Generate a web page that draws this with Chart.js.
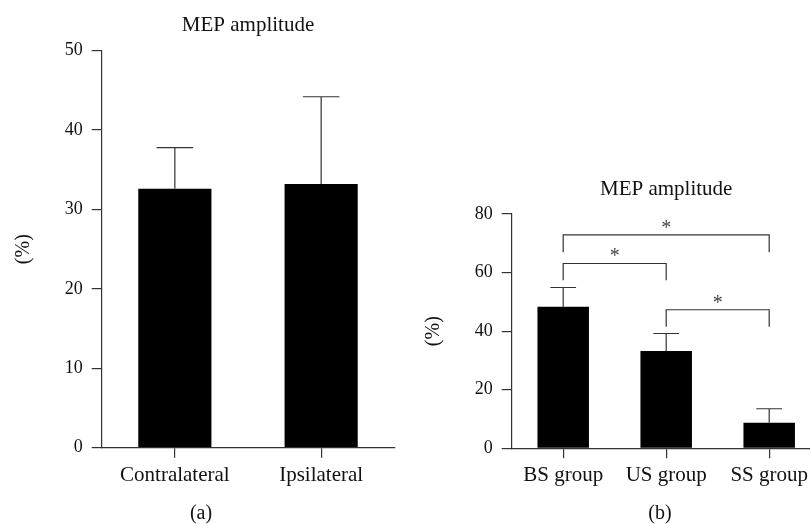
<!DOCTYPE html>
<html>
<head>
<meta charset="utf-8">
<title>MEP amplitude</title>
<script src="https://cdn.jsdelivr.net/npm/chart.js@4.4.1/dist/chart.umd.min.js"></script>
<style>
  html, body { margin: 0; padding: 0; background: #fff; overflow: hidden; }
  body { width: 810px; height: 524px; position: relative; }
  .panel { position: absolute; top: 0; height: 524px; }
  #panel-a { left: 0; width: 410px; }
  #panel-b { left: 410px; width: 420px; }
</style>
</head>
<body>
<div class="panel" id="panel-a"><canvas id="chart-a" width="410" height="524"></canvas></div>
<div class="panel" id="panel-b"><canvas id="chart-b" width="420" height="524"></canvas></div>
<script>
(function () {
  "use strict";

  // ── Data ───────────────────────────────────────────────────

  // (a) hemisphere comparison
  const sideLabels = ["Contralateral", "Ipsilateral"];
  const sideMeans = [32.6, 33.2];
  const sideSD = [5.2, 11.0];
  const sideMax = 50;
  const sideStep = 10;

  // (b) group comparison
  const groupLabels = ["BS group", "US group", "SS group"];
  const groupMeans = [48.3, 33.2, 8.7];
  const groupSD = [6.6, 6.0, 4.8];
  const groupMax = 80;
  const groupStep = 20;

  // significance brackets in (b): from bar, to bar, bracket value, leg end value
  const bracketFrom = [0, 0, 1];
  const bracketTo = [2, 1, 2];
  const bracketTop = [72.9, 63.1, 47.3];
  const bracketLeg = [66.9, 57.4, 41.5];
  const bracketMark = ["*", "*", "*"];

  // ── Styles ─────────────────────────────────────────────────

  const SERIF = "'Liberation Serif', 'DejaVu Serif', serif";
  const INK = "#111";
  const LINE = "#333";

  // ── Plugins ────────────────────────────────────────────────

  // upward-only SD whiskers with a cap half the bar width
  const errorBars = {
    id: "errorBars",
    afterDatasetsDraw(chart, args, opts) {
      const meta = chart.getDatasetMeta(0);
      const y = chart.scales.y;
      const ctx = chart.ctx;
      ctx.save();
      ctx.strokeStyle = LINE;
      ctx.lineWidth = 1.2;
      meta.data.forEach((bar, i) => {
        const top = y.getPixelForValue(opts.means[i] + opts.sd[i]);
        const half = bar.width / 4;
        ctx.beginPath();
        ctx.moveTo(bar.x, bar.y);
        ctx.lineTo(bar.x, top);
        ctx.moveTo(bar.x - half, top);
        ctx.lineTo(bar.x + half, top);
        ctx.stroke();
      });
      ctx.restore();
    },
  };

  const brackets = {
    id: "brackets",
    afterDatasetsDraw(chart, args, opts) {
      if (!opts.from) return;
      const meta = chart.getDatasetMeta(0);
      const y = chart.scales.y;
      const ctx = chart.ctx;
      ctx.save();
      ctx.strokeStyle = LINE;
      ctx.lineWidth = 1.2;
      ctx.fillStyle = "#444";
      ctx.font = "20px " + SERIF;
      ctx.textAlign = "center";
      ctx.textBaseline = "alphabetic";
      opts.from.forEach((f, i) => {
        const x1 = meta.data[f].x;
        const x2 = meta.data[opts.to[i]].x;
        const yTop = y.getPixelForValue(opts.top[i]);
        const yLeg = y.getPixelForValue(opts.leg[i]);
        ctx.beginPath();
        ctx.moveTo(x1, yLeg);
        ctx.lineTo(x1, yTop);
        ctx.lineTo(x2, yTop);
        ctx.lineTo(x2, yLeg);
        ctx.stroke();
        ctx.fillText(opts.mark[i], (x1 + x2) / 2, yTop - 1);
      });
      ctx.restore();
    },
  };

  // chart title above the plot area and the panel letter at the bottom
  const panelText = {
    id: "panelText",
    afterDraw(chart, args, opts) {
      const ctx = chart.ctx;
      const area = chart.chartArea;
      ctx.save();
      ctx.fillStyle = INK;
      ctx.textAlign = "center";
      ctx.textBaseline = "middle";
      ctx.font = "21px " + SERIF;
      ctx.fillText(opts.title, (area.left + area.right) / 2, area.top - 25);
      ctx.font = "20px " + SERIF;
      ctx.fillText(opts.letter, opts.letterX, opts.letterY);
      ctx.restore();
    },
  };

  // ── Chart builder ──────────────────────────────────────────

  function makeChart(id, cfg) {
    const ctx = document.getElementById(id).getContext("2d");
    return new Chart(ctx, {
      type: "bar",
      data: {
        labels: cfg.labels,
        datasets: [
          {
            data: cfg.means,
            backgroundColor: "#000",
            borderWidth: 0,
            barPercentage: 0.5,
            categoryPercentage: 1.0,
          },
        ],
      },
      options: {
        responsive: false,
        animation: false,
        devicePixelRatio: 1,
        layout: {
          padding: { left: 7, right: cfg.padRight, top: cfg.padTop, bottom: 0 },
        },
        plugins: {
          legend: { display: false },
          tooltip: { enabled: false },
          errorBars: { means: cfg.means, sd: cfg.sd },
          brackets: cfg.brackets || {},
          panelText: {
            title: "MEP amplitude",
            letter: cfg.letter,
            letterX: cfg.letterX,
            letterY: 514,
          },
        },
        scales: {
          x: {
            afterFit: (s) => { s.height = cfg.xHeight; },
            grid: {
              offset: false,
              drawOnChartArea: false,
              drawTicks: true,
              tickLength: 10,
              color: LINE,
              lineWidth: 1.2,
            },
            border: { display: true, color: LINE, width: 1.2 },
            ticks: {
              color: INK,
              padding: 5,
              font: { family: SERIF, size: 21 },
              maxRotation: 0,
              autoSkip: false,
            },
          },
          y: {
            min: 0,
            max: cfg.max,
            afterFit: (s) => { s.width = 94.7; },
            title: {
              display: true,
              text: "(%)",
              color: INK,
              font: { family: SERIF, size: 20 },
              padding: { top: 5, bottom: 4 },
            },
            grid: {
              drawOnChartArea: false,
              drawTicks: true,
              tickLength: 10,
              color: LINE,
              lineWidth: 1.2,
            },
            border: { display: true, color: LINE, width: 1.2 },
            ticks: {
              stepSize: cfg.step,
              color: INK,
              padding: 9,
              font: { family: SERIF, size: 18 },
            },
          },
        },
      },
      plugins: [errorBars, brackets, panelText],
    });
  }

  // ── Render ─────────────────────────────────────────────────

  makeChart("chart-a", {
    labels: sideLabels,
    means: sideMeans,
    sd: sideSD,
    max: sideMax,
    step: sideStep,
    padTop: 50.7,
    padRight: 15.7,
    xHeight: 76.3,
    letter: "(a)",
    letterX: 201,
  });

  makeChart("chart-b", {
    labels: groupLabels,
    means: groupMeans,
    sd: groupSD,
    max: groupMax,
    step: groupStep,
    padTop: 214,
    padRight: 9.3,
    xHeight: 75.7,
    letter: "(b)",
    letterX: 250,
    brackets: {
      from: bracketFrom,
      to: bracketTo,
      top: bracketTop,
      leg: bracketLeg,
      mark: bracketMark,
    },
  });
})();
</script>
</body>
</html>
